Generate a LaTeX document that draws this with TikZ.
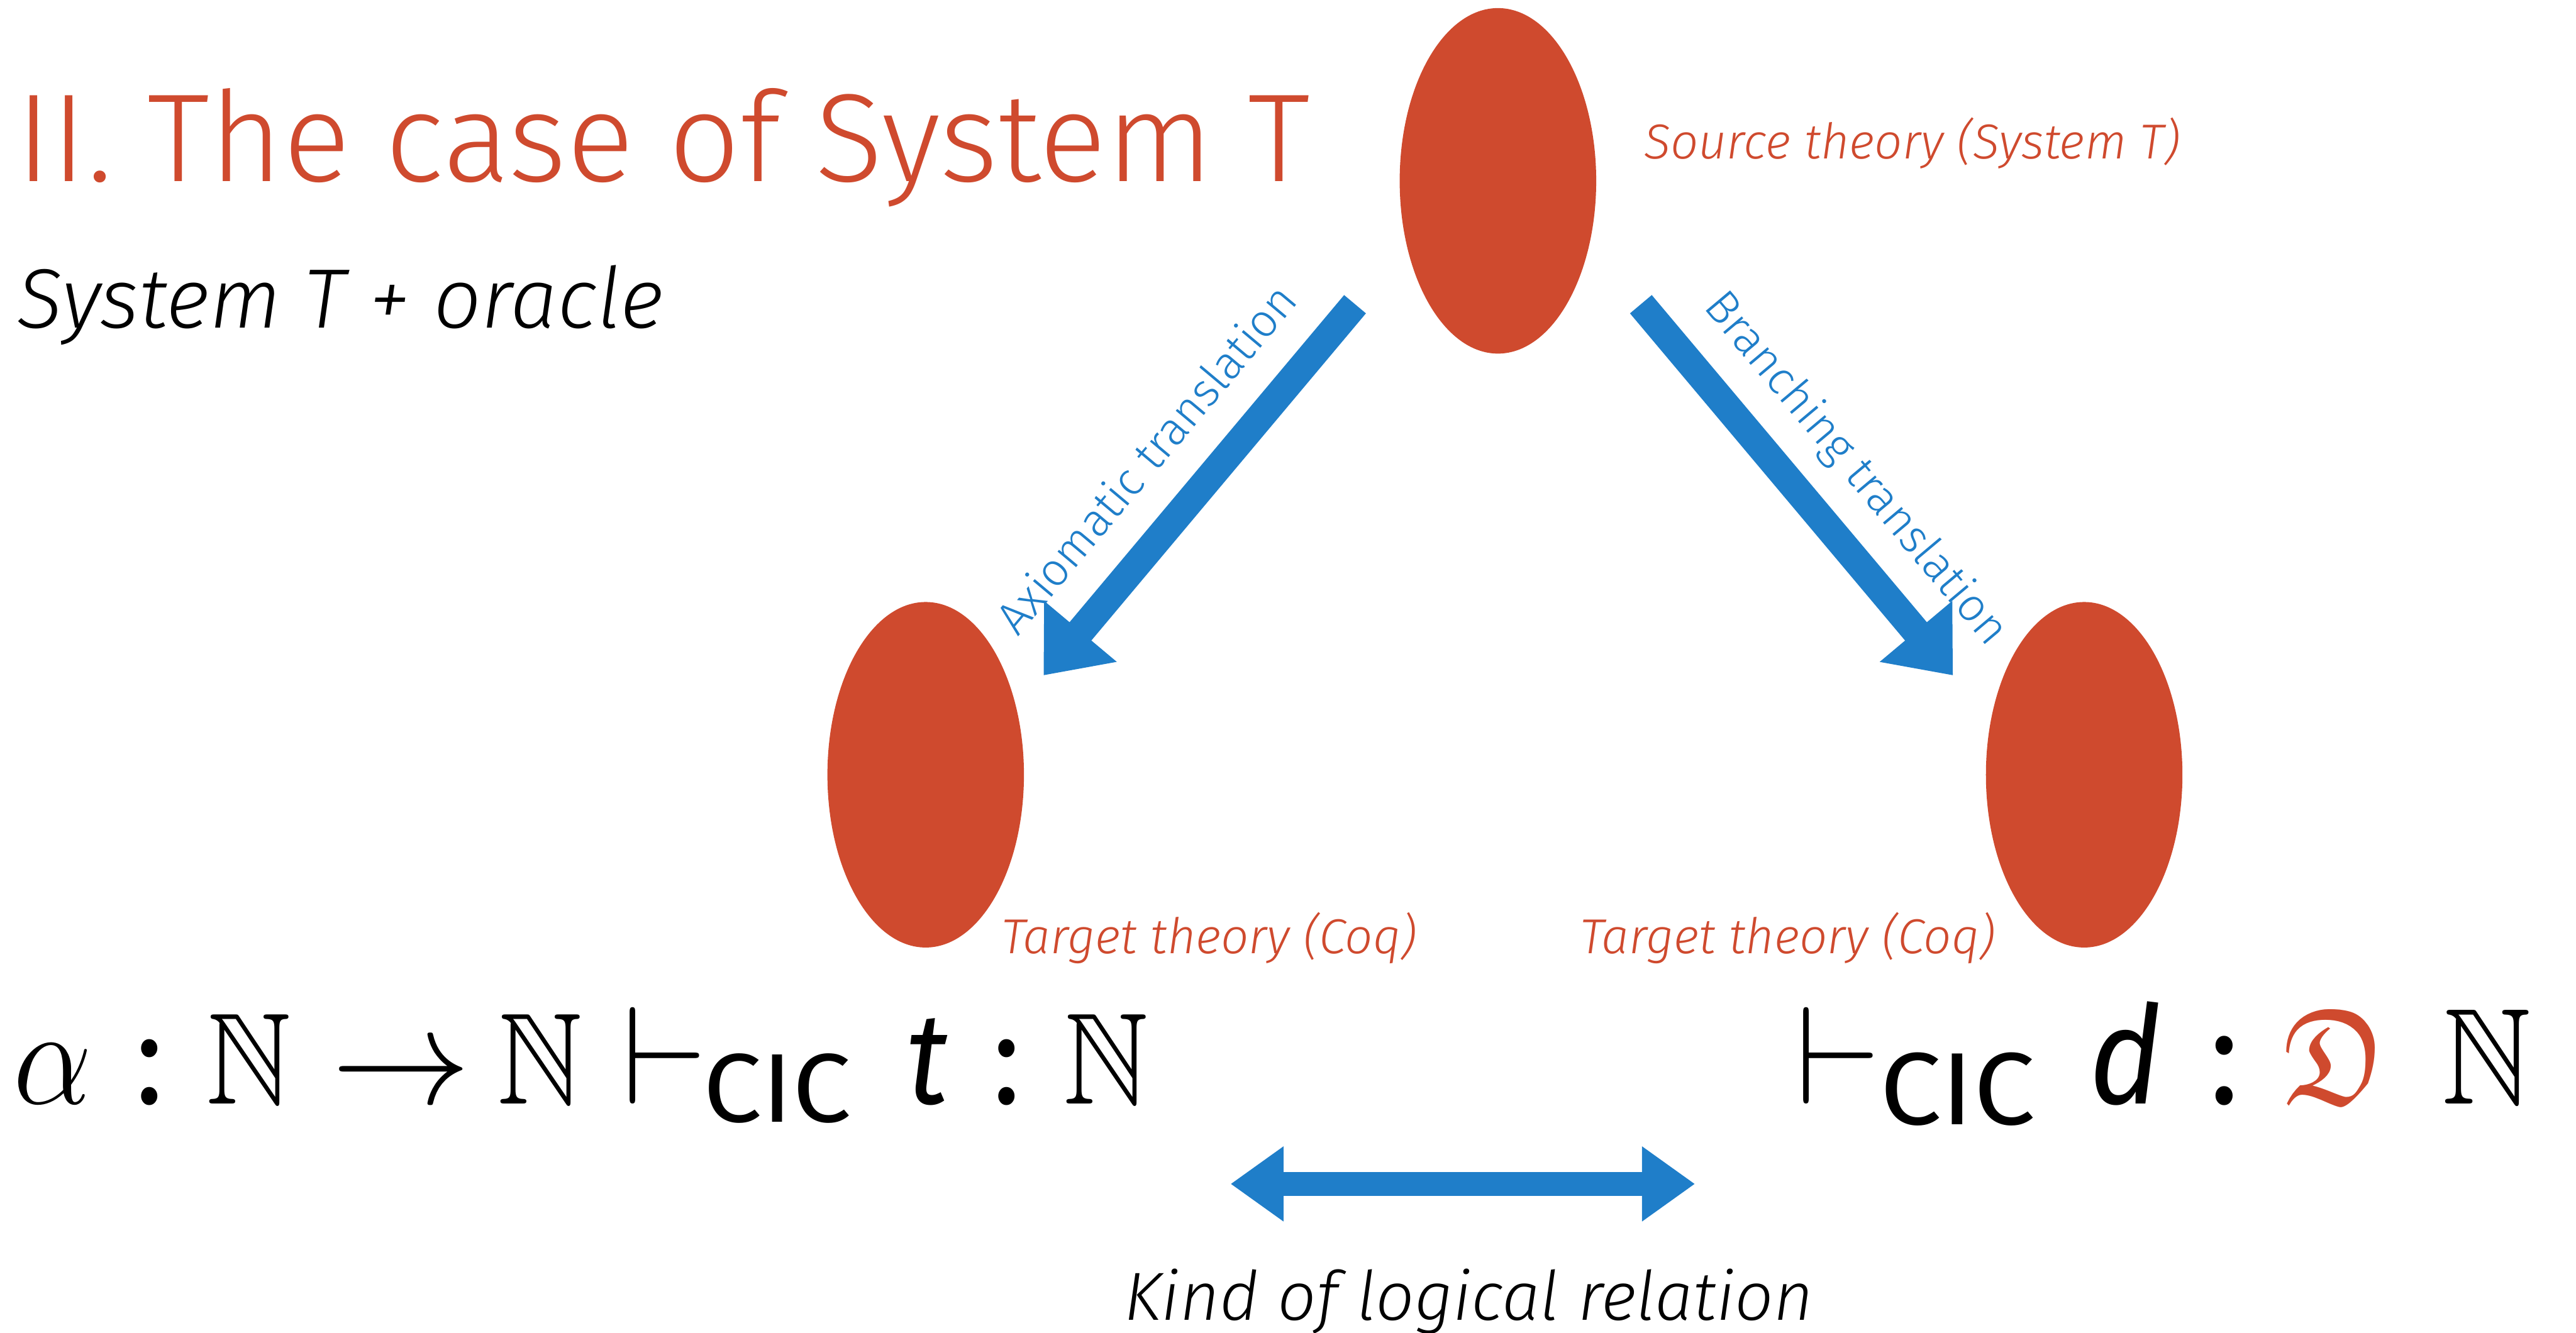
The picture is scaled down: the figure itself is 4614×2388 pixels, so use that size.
\documentclass[tikz,border=0pt]{standalone}
\usepackage{amsmath}
\usepackage{amssymb}
\usepackage{fontspec}
\setmainfont{Fira Sans Light}[ItalicFont={Fira Sans Light Italic}]
\newfontfamily\firareg{Fira Sans}
\usetikzlibrary{arrows.meta,shapes.geometric}
\definecolor{ored}{HTML}{CF4A2E}
\definecolor{ablue}{HTML}{1F7EC9}
\newcommand{\sqz}[1]{\scalebox{0.9}[1]{#1}}
\newcommand{\wdn}[1]{\scalebox{1.07}[1]{#1}}
\begin{document}
\begin{tikzpicture}[x=0.1pt,y=-0.1pt,
  theory/.style={ellipse,fill=ored,draw=none,minimum width=35.2pt,minimum height=61.9pt,inner sep=0pt},
  small/.style={inner sep=0pt,font=\fontsize{8.8}{10}\selectfont},
  bigarrow/.style={ablue,line width=5.1pt,-{Triangle[length=10.3pt,width=16.3pt]}},
  dblarrow/.style={ablue,line width=4.3pt,{Triangle[length=9.5pt,width=12.8pt]}-{Triangle[length=9.5pt,width=12.8pt]}},
  fl/.style={inner sep=0pt,anchor=base west,font=\fontsize{23.3}{28}\selectfont},
  fr/.style={inner sep=0pt,anchor=base west,font=\fontsize{24.5}{29}\selectfont}]
\useasboundingbox (0,0) rectangle (4614,2388);
% title
\node[inner sep=0pt,anchor=base west,text=ored,font=\fontsize{22.45}{27}\selectfont] (title) at (27,325) {II. The case of System T};
\node[inner sep=0pt,anchor=base west,font=\fontsize{15.1}{18}\selectfont\itshape] (sub) at (29,587) {System T + oracle};
% theories
\node[theory] (src) at (2683,324) {};
\node[theory] (tl) at (1658,1388) {};
\node[theory] (tr) at (3733,1388) {};
\node[small,anchor=base west,text=ored,font=\fontsize{8.8}{10}\selectfont\itshape] (srclab) at (2943,284) {Source theory (System T)};
\node[small,anchor=base west,text=ored,font=\fontsize{8.8}{10}\selectfont\itshape] (tllab) at (1792,1708) {Target theory (Coq)};
\node[small,anchor=base west,text=ored,font=\fontsize{8.8}{10}\selectfont\itshape] (trlab) at (2828,1708) {Target theory (Coq)};
% arrows
\coordinate (la0) at (2427,545);
\coordinate (la1) at (1869,1210);
\coordinate (ra0) at (2939,545);
\coordinate (ra1) at (3498,1210);
\draw[bigarrow] (la0) -- (la1);
\draw[bigarrow] (ra0) -- (ra1);
\node[small,anchor=base west,rotate=50,text=ablue,font=\fontsize{8.3}{10}\selectfont] (axlab) at (1822,1143) {Axiomatic translation};
\node[small,anchor=base west,rotate=-50,text=ablue,font=\fontsize{8.3}{10}\selectfont] (brlab) at (3048,549) {Branching translation};
% left formula
\node[fl] (l1) at (22,1977) {\sqz{$\alpha$}};
\node[fl] (l2) at (241,1977) {\sqz{\firareg :}};
\node[fl] (l3) at (368,1977) {\sqz{$\mathbb{N}$}};
\node[fl] (l4) at (592,1977) {$\to$};
\node[fl] (l5) at (890,1977) {\sqz{$\mathbb{N}$}};
\node[fl] (l6) at (1113,1977) {$\vdash$};
\node[inner sep=0pt,anchor=base west,font=\fontsize{17.5}{20}\selectfont\firareg] (l7) at (1258,2010) {\wdn{CIC}};
\node[fl] (l8) at (1622,1977) {\sqz{\firareg\itshape t}};
\node[fl] (l9) at (1776,1977) {\sqz{\firareg :}};
\node[fl] (l10) at (1903,1977) {\sqz{$\mathbb{N}$}};
% right formula
\node[fr] (r1) at (3215,1978) {$\vdash$};
\node[inner sep=0pt,anchor=base west,font=\fontsize{18.4}{21}\selectfont\firareg] (r2) at (3365,2015) {\wdn{CIC}};
\node[fr] (r3) at (3741,1978) {\sqz{\firareg\itshape d}};
\node[fr] (r4) at (3956,1978) {\sqz{\firareg :}};
\node[fr,text=ored] (r5) at (4088,1978) {\sqz{$\mathfrak{D}$}};
\node[fr] (r6) at (4372,1978) {\sqz{$\mathbb{N}$}};
% logical relation
\coordinate (lr0) at (2204,2121);
\coordinate (lr1) at (3036,2121);
\draw[dblarrow] (lr0) -- (lr1);
\node[inner sep=0pt,anchor=base west,font=\fontsize{12.2}{15}\selectfont\itshape] (lrlab) at (2012,2365) {Kind of logical relation};
\end{tikzpicture}
\end{document}
